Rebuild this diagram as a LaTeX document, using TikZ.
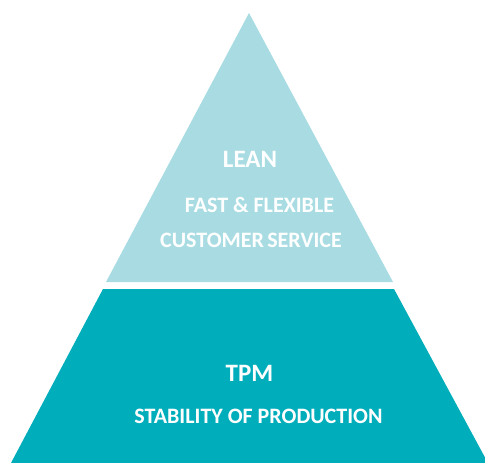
\documentclass[tikz,border=0pt]{standalone}
\usepackage{fontspec}
\setmainfont{Carlito}
\definecolor{leanfill}{RGB}{168,220,226}
\definecolor{tpmfill}{RGB}{0,173,187}
\begin{document}
\begin{tikzpicture}[x=1pt,y=-1pt,
  lbl/.style={anchor=base,text=white,font=\bfseries\fontsize{22}{24}\selectfont,inner sep=0pt},
  biglbl/.style={lbl,font=\bfseries\fontsize{25}{27}\selectfont}]
\useasboundingbox (0,0) rectangle (485,463);
\clip (0,0) rectangle (485,463);
\fill[leanfill] (249,13) -- (393,282) -- (106,282) -- cycle;
\fill[tpmfill] (103,289) -- (394,289) -- (488,463) -- (11,463) -- cycle;
\node[biglbl] (lean) at (250,167) {LEAN};
\node[lbl] (fast) at (259.5,212) {FAST \& FLEXIBLE};
\node[lbl] (cust) at (251,247) {CUSTOMER\hspace{0.15em}SERVICE};
\node[biglbl] (tpm) at (249.5,381) {TPM};
\node[lbl] (stab) at (258.5,423) {STABILITY OF PRODUCTION};
\end{tikzpicture}
\end{document}
